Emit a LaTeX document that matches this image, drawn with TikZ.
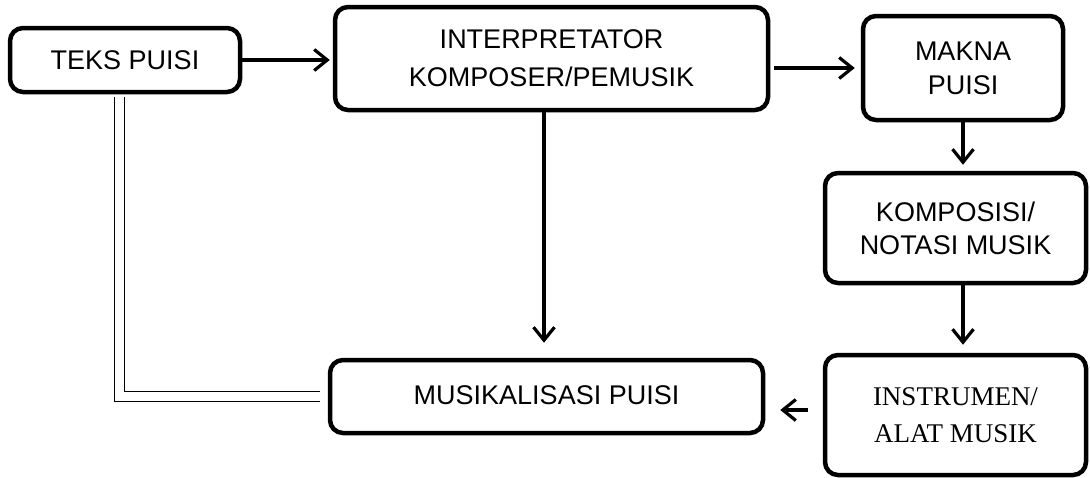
\documentclass[tikz,border=0pt]{standalone}
\usepackage{fontspec}
\setmainfont{Liberation Sans}
\newfontfamily\serifface{Liberation Serif}
\usetikzlibrary{arrows.meta,calc}
\begin{document}
\begin{tikzpicture}[x=1pt,y=-1pt,
  box/.style={draw, line width=4.5pt, rounded corners=13pt, align=center, inner sep=0pt},
  conn/.style={line width=3.2pt, -{Straight Barb[length=13pt,width=21pt,line width=3.2pt]}},
  dbl/.style={double, double distance=8.5pt, line width=1.3pt}]
\useasboundingbox (0,0) rectangle (1090,477);
\node[box, minimum width=230pt, minimum height=64pt, font=\fontsize{27}{33}\selectfont] (teks) at (125,60) {TEKS PUISI};
\node[box, minimum width=433pt, minimum height=103pt, font=\fontsize{27}{38}\selectfont] (interp) at (551.5,58.5) {INTERPRETATOR\\KOMPOSER/PEMUSIK};
\node[box, minimum width=200pt, minimum height=104pt, font=\fontsize{27}{34}\selectfont] (makna) at (963,68) {MAKNA\\PUISI};
\node[box, minimum width=261pt, minimum height=110pt, font=\fontsize{27}{33}\selectfont] (kompo) at (955.5,228) {KOMPOSISI/\\NOTASI MUSIK};
\node[box, minimum width=261pt, minimum height=120pt, font=\serifface\fontsize{27}{37}\selectfont] (instr) at (955.5,415) {INSTRUMEN/\\ALAT MUSIK};
\node[box, minimum width=433pt, minimum height=73pt, font=\fontsize{27}{33}\selectfont] (musik) at (546.5,396.5) {\raisebox{3.5pt}{MUSIKALISASI PUISI}};
% connectors
\draw[conn, shorten >=3pt] (teks.east) -- (interp.west |- teks.east);
\draw[conn, shorten <=4pt, shorten >=6pt] (interp.east |- makna.west) -- (makna.west);
\draw[conn, shorten >=6pt] (makna.south) -- (makna.south |- kompo.north);
\draw[conn, shorten >=8pt] (kompo.south -| makna.south) -- (instr.north -| makna.south);
\coordinate (ia) at ($(instr.west)+(0,-5)$);
\draw[conn, shorten <=15pt, shorten >=15pt] (ia) -- (musik.east |- ia);
\coordinate (pa) at ($(interp.south)+(-7.5,0)$);
\draw[conn, shorten >=15pt] (pa) -- (pa |- musik.north);
\draw[dbl] ($(teks.south)+(-5.5,2.5)$) |- ($(musik.west)+(-8,0)$);
\end{tikzpicture}
\end{document}
